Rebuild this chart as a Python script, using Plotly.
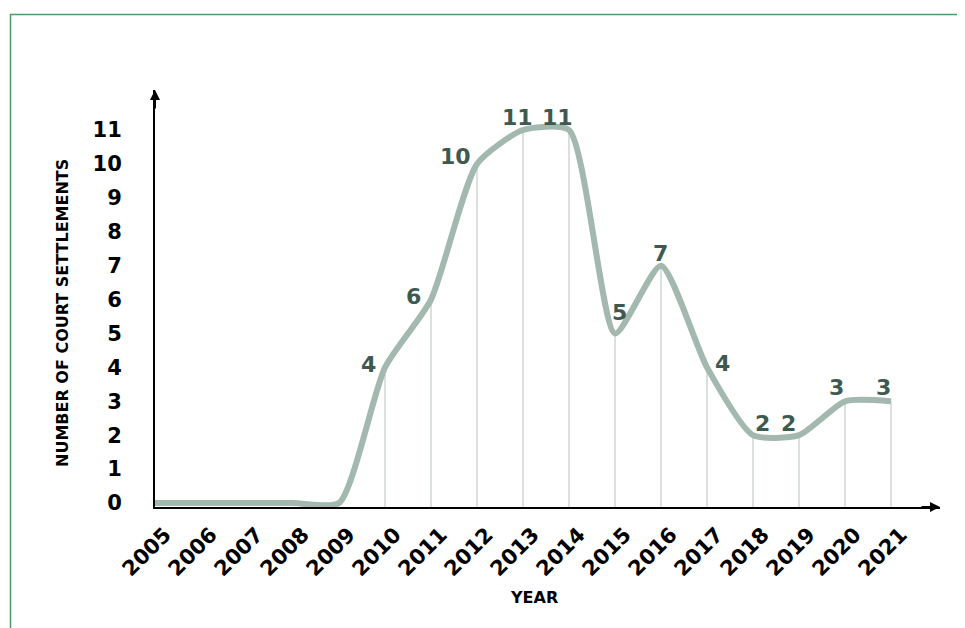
import plotly.graph_objects as go

years = list(range(2005, 2022))
settlements = [0, 0, 0, 0, 0, 4, 6, 10, 11, 11, 5, 7, 4, 2, 2, 3, 3]
y_ticks = list(range(0, 12))

# label offsets (pixels) for value labels, style only
label_shift = {2010: (-17, 3), 2011: (-18, 3), 2012: (-22, 7), 2013: (-6, 13), 2014: (-12, 13),
               2015: (4, 21), 2016: (-1, 12), 2017: (15, 4), 2018: (9, 12), 2019: (-11, 12),
               2020: (-9, 14), 2021: (-8, 14)}

LINE = "#a3b8ae"
LABEL = "#3e5a50"
FONT = "DejaVu Sans"
OFF = 8  # browser body margin

fig = go.Figure()

# drop lines from each point to the axis
drop_y = [v if v > 0 else None for v in settlements]
fig.add_trace(go.Scatter(
    x=years, y=drop_y, mode="markers",
    marker=dict(size=0.1, color="rgba(0,0,0,0)"),
    error_y=dict(type="data", symmetric=False, array=[0] * len(years),
                 arrayminus=[v + 0.12 if v else 0 for v in settlements],
                 color="#b3c1bb", thickness=1, width=0),
    hoverinfo="skip", showlegend=False))

fig.add_trace(go.Scatter(
    x=years, y=settlements, mode="lines",
    line=dict(color=LINE, width=6, shape="spline", smoothing=0.6),
    showlegend=False))

for yr, v in zip(years, settlements):
    if yr in label_shift:
        dx, dy = label_shift[yr]
        fig.add_annotation(x=yr, y=v, xref="x", yref="y", text=str(v), showarrow=False,
                           xanchor="center", yanchor="middle", xshift=dx, yshift=dy,
                           font=dict(family=FONT, size=22, color=LABEL, weight="bold"))

# axis arrows
fig.add_annotation(x=0, y=1, xref="paper", yref="paper", ax=0, ay=20, text="",
                   showarrow=True, arrowhead=2, arrowsize=1, arrowwidth=2, arrowcolor="black")
fig.add_annotation(x=1, y=0, xref="paper", yref="paper", ax=-20, ay=0, text="",
                   showarrow=True, arrowhead=2, arrowsize=1, arrowwidth=2, arrowcolor="black")

# axis titles
fig.add_annotation(x=(62 - 155) / 785, y=(507 - 313) / 417, xref="paper", yref="paper",
                   text="NUMBER OF COURT SETTLEMENTS", textangle=-90, showarrow=False,
                   xanchor="center", yanchor="middle",
                   font=dict(family=FONT, size=16, color="black", weight="bold"))
fig.add_annotation(x=(534 - 155) / 785, y=(507 - 597) / 417, xref="paper", yref="paper",
                   text="YEAR", showarrow=False, xanchor="center", yanchor="middle",
                   font=dict(family=FONT, size=16, color="black", weight="bold"))

# green frame
fig.add_shape(type="rect", xref="paper", yref="paper",
              x0=(10.5 - 155) / 785, x1=(990 - 155) / 785,
              y0=(507 - 660) / 417, y1=(507 - 14.5) / 417,
              line=dict(color="#4a9a6a", width=1.5), fillcolor="rgba(0,0,0,0)", layer="below")

fig.update_layout(
    width=965 - OFF, height=628 - OFF,
    margin=dict(l=155 - OFF, r=25, t=90 - OFF, b=121),
    paper_bgcolor="white", plot_bgcolor="white",
    xaxis=dict(range=[2005, 2005 + 785 / 46], tickvals=years, ticktext=[str(y) for y in years],
               tickangle=-45, showgrid=False, zeroline=False, showline=True,
               linecolor="black", linewidth=2, ticks="",
               ticklabelstandoff=5, ticklabelshift=10,
               tickfont=dict(family=FONT, size=21, color="black", weight="bold")),
    yaxis=dict(range=[-0.118, 12.18], tickvals=y_ticks, ticktext=[str(t) for t in y_ticks],
               showgrid=False, zeroline=False, showline=True, linecolor="black", linewidth=2,
               ticks="", ticklabelstandoff=27,
               tickfont=dict(family=FONT, size=21, color="black", weight="bold")),
)

fig.write_html("out.html")
